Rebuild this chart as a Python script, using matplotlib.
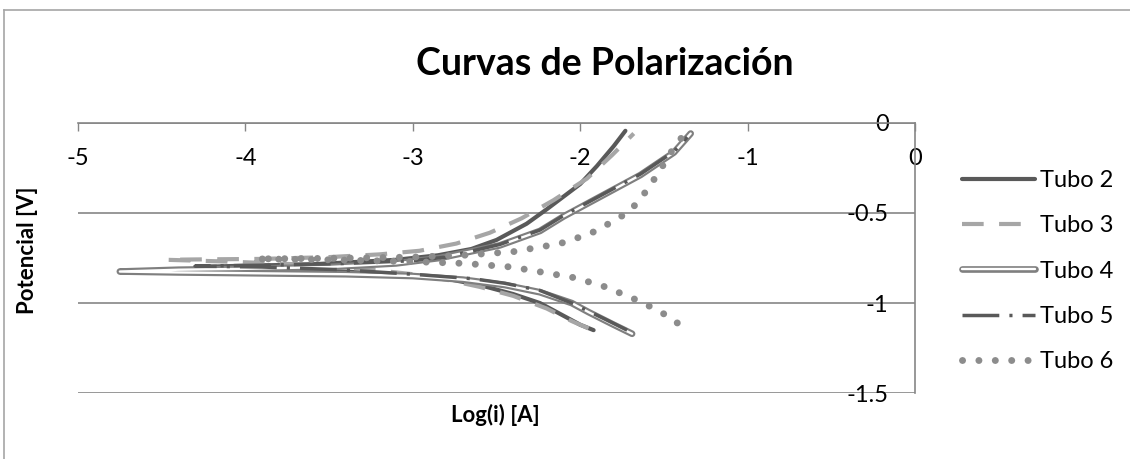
import matplotlib
matplotlib.use("Agg")
import matplotlib.pyplot as plt
from matplotlib.lines import Line2D
import matplotlib.patheffects as pe

plt.rcParams['font.family'] = ['Lato', 'DejaVu Sans']

# ---- data (log i [A], potential [V]) in sweep order ----
t2_x = [-1.92, -2.00, -2.10, -2.24, -2.40, -2.60, -2.80, -3.00, -3.30, -3.70, -4.10, -4.30,
        -4.10, -3.60, -3.10, -2.85, -2.65, -2.50, -2.32, -2.20, -2.10, -2.00, -1.90, -1.80, -1.73]
t2_y = [-1.15, -1.12, -1.07, -1.00, -0.95, -0.90, -0.865, -0.845, -0.83, -0.815, -0.805, -0.80,
        -0.795, -0.785, -0.76, -0.735, -0.70, -0.65, -0.56, -0.48, -0.41, -0.34, -0.24, -0.13, -0.045]

t3_x = [-1.95, -2.05, -2.20, -2.40, -2.60, -2.80, -3.00, -3.30, -3.70, -4.10, -4.47,
        -4.30, -3.90, -3.50, -3.20, -2.96, -2.74, -2.54, -2.35, -2.16, -1.96, -1.81, -1.68]
t3_y = [-1.14, -1.10, -1.03, -0.96, -0.91, -0.87, -0.84, -0.81, -0.785, -0.77, -0.76,
        -0.758, -0.755, -0.745, -0.73, -0.71, -0.67, -0.61, -0.53, -0.43, -0.31, -0.18, -0.06]

t4_x = [-1.69, -1.80, -1.95, -2.05, -2.24, -2.45, -2.70, -3.00, -3.40, -3.90, -4.40, -4.75,
        -4.40, -4.00, -3.50, -3.10, -2.84, -2.48, -2.24, -2.10, -1.88, -1.64, -1.44, -1.34]
t4_y = [-1.17, -1.12, -1.05, -1.00, -0.94, -0.90, -0.87, -0.85, -0.84, -0.835, -0.83, -0.825,
        -0.815, -0.81, -0.80, -0.78, -0.75, -0.68, -0.60, -0.52, -0.41, -0.29, -0.165, -0.06]

t5_x = [-1.72, -1.85, -2.05, -2.24, -2.45, -2.64, -3.00, -3.43, -3.90, -4.30,
        -3.90, -3.40, -3.00, -2.80, -2.48, -2.24, -2.10, -1.88, -1.64, -1.44, -1.36]
t5_y = [-1.15, -1.09, -1.00, -0.93, -0.89, -0.865, -0.84, -0.815, -0.80, -0.795,
        -0.79, -0.78, -0.765, -0.745, -0.675, -0.595, -0.515, -0.405, -0.285, -0.16, -0.08]

t6_x = [-1.42, -1.50, -1.58, -1.67, -1.85, -2.03, -2.22, -2.41, -2.69, -3.00, -3.50, -3.93,
        -3.50, -3.00, -2.70, -2.40, -2.12, -1.94, -1.77, -1.69, -1.63, -1.57, -1.52, -1.47, -1.42, -1.36]
t6_y = [-1.11, -1.06, -1.02, -0.98, -0.91, -0.86, -0.83, -0.80, -0.78, -0.77, -0.76, -0.755,
        -0.752, -0.745, -0.735, -0.715, -0.67, -0.615, -0.53, -0.475, -0.41, -0.33, -0.26, -0.18, -0.115, -0.04]

labels = ["Tubo 2", "Tubo 3", "Tubo 4", "Tubo 5", "Tubo 6"]
x_ticks = [-5, -4, -3, -2, -1, 0]
y_ticks = [0, -0.5, -1, -1.5]

W, H = 1130, 459
fig = plt.figure(figsize=(W / 100, H / 100), dpi=100)
ax = fig.add_axes([78 / W, 1 - 393.3 / H, (915 - 78) / W, (393.3 - 122.7) / H])

axis_col = '#868686'
dark = '#595959'

l2, = ax.plot(t2_x, t2_y, color=dark, lw=3.0, solid_capstyle='round', solid_joinstyle='round', zorder=3)
l3, = ax.plot(t3_x, t3_y, color='#A6A6A6', lw=3.0, linestyle=(0, (5.2, 3.7)),
              dash_capstyle='butt', zorder=4)
l4, = ax.plot(t4_x, t4_y, color='white', lw=1.7, solid_capstyle='round', solid_joinstyle='round',
              zorder=5, path_effects=[pe.Stroke(linewidth=4.8, foreground='#7F7F7F'), pe.Normal()])
l5, = ax.plot(t5_x, t5_y, color=dark, lw=2.5, linestyle=(0, (10.6, 2.9, 0.9, 2.9)),
              dash_capstyle='butt', zorder=6)
l6, = ax.plot(t6_x, t6_y, color='#8C8C8C', lw=5.0, linestyle=(0, (0.01, 2.35)),
              dash_capstyle='round', zorder=7)

ax.set_xlim(-5, 0)
ax.set_ylim(-1.5, 0)
ax.set_xticks(x_ticks)
ax.set_xticklabels([f"{v:g}" for v in x_ticks])
ax.set_yticks(y_ticks)
ax.set_yticklabels([f"{v:g}" for v in y_ticks])

for s in ['bottom', 'right']:
    ax.spines[s].set_visible(False)
ax.spines['top'].set_color(axis_col)
ax.spines['top'].set_linewidth(1.2)
ax.spines['left'].set_position(('data', 0))
ax.spines['left'].set_color(axis_col)
ax.spines['left'].set_linewidth(1.2)

ax.xaxis.set_ticks_position('top')
ax.tick_params(axis='x', direction='in', length=5.5, width=1.0, color=axis_col,
               labeltop=True, labelbottom=False, pad=-33, labelsize=17)
ax.tick_params(axis='y', length=0, pad=19, labelsize=17)
ax.grid(axis='y', color=axis_col, lw=1.2)
ax.set_axisbelow(True)
ax.patch.set_alpha(0)

fig.text(605 / W, 1 - 75 / H, "Curvas de Polarización", ha='center', va='baseline',
         fontsize=27, fontweight='bold')
fig.text(495 / W, 1 - 415 / H, "Log(i) [A]", ha='center', va='center', fontsize=16, fontweight='bold')
fig.text(27 / W, 1 - 250 / H, "Potencial [V]", ha='center', va='center', rotation=90,
         fontsize=16, fontweight='bold')

handles = [l2, l3, l4, l5, l6]
fig.legend(handles, labels, loc='upper left', bbox_to_anchor=(962 / W, 1 - 170 / H),
           frameon=False, fontsize=17, handlelength=3.1, handletextpad=0.2,
           labelspacing=1.03, borderpad=0, borderaxespad=0)

border_col = '#A6A6A6'
fig.add_artist(Line2D([4 / W, 1], [1 - 10 / H, 1 - 10 / H], transform=fig.transFigure,
                      color=border_col, lw=1.2))
fig.add_artist(Line2D([4 / W, 4 / W], [0, 1 - 10 / H], transform=fig.transFigure,
                      color=border_col, lw=1.2))

fig.savefig('out.png', dpi=100)
